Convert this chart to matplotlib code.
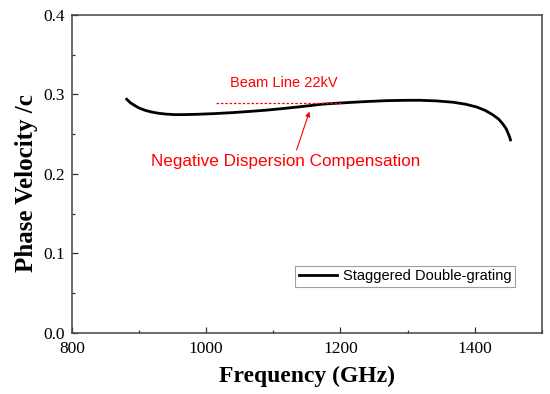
import numpy as np
import matplotlib.pyplot as plt
from matplotlib.ticker import MultipleLocator

# data
freq = [881.5, 887, 893.8, 900, 908.7, 918, 928.5, 940, 953.4, 970, 988.1, 1012, 1037.9,
        1062, 1087.5, 1112, 1137.1, 1155, 1171.9, 1195, 1219, 1244, 1268.7, 1293, 1318.3,
        1343, 1367.9, 1386, 1402.8, 1416, 1427.5, 1436, 1442.4, 1447, 1449.8, 1452, 1453.4]
vphase = [0.294, 0.2895, 0.2859, 0.2829, 0.2801, 0.278, 0.2764, 0.2753, 0.2746, 0.2747,
          0.2751, 0.2759, 0.2771, 0.2785, 0.2801, 0.2821, 0.2843, 0.286, 0.2877, 0.289,
          0.2902, 0.2913, 0.2922, 0.2926, 0.2927, 0.2919, 0.2902, 0.2878, 0.2843, 0.2798,
          0.2742, 0.2688, 0.2625, 0.2568, 0.2512, 0.2468, 0.2428]
beam_f = [1015, 1204]
beam_v = [0.289, 0.289]

plt.rcParams['font.family'] = 'Liberation Serif'

fig = plt.figure(figsize=(5.5, 3.94), dpi=100)
ax = fig.add_axes([0.131, 0.155, 0.854, 0.807])

ax.plot(freq, vphase, color='black', lw=2, label='Staggered Double-grating',
        solid_joinstyle='round')
ax.plot(beam_f, beam_v, color='red', lw=0.9, ls=(0, (2, 1.5)))

ax.text(1115, 0.314, 'Beam Line 22kV', color='red', fontsize=10.5,
        family='Liberation Sans', ha='center', va='center')
ax.text(1118.7, 0.2155, 'Negative Dispersion Compensation', color='red', fontsize=12.3,
        family='Liberation Sans', ha='center', va='center')
ax.annotate('', xy=(1153.7, 0.2784), xytext=(1134.7, 0.2302),
            arrowprops=dict(arrowstyle='-|>', color='red', lw=0.8,
                            mutation_scale=7, shrinkA=0, shrinkB=0))

ax.set_xlim(800, 1500)
ax.set_ylim(0, 0.4)
ax.xaxis.set_major_locator(MultipleLocator(200))
ax.xaxis.set_minor_locator(MultipleLocator(100))
ax.yaxis.set_major_locator(MultipleLocator(0.1))
ax.yaxis.set_minor_locator(MultipleLocator(0.05))
ax.yaxis.set_major_formatter(plt.FormatStrFormatter('%.1f'))
ax.tick_params(which='both', direction='in', labelsize=12.5, color='#333333', width=0.9)
ax.tick_params(which='major', length=4)
ax.tick_params(which='minor', length=2.5)
ax.tick_params(axis='x', which='major', pad=6)
ax.tick_params(axis='y', which='major', pad=5)
for s in ax.spines.values():
    s.set_color('#444444')
    s.set_linewidth(1.1)

ax.set_xlabel('Frequency (GHz)', fontsize=17, fontweight='bold', labelpad=6)
ax.set_ylabel('Phase Velocity /c', fontsize=18, fontweight='bold')
ax.yaxis.set_label_coords(-0.072, 0.47)

leg = ax.legend(loc='lower right', bbox_to_anchor=(0.9426, 0.1447), borderaxespad=0,
                fancybox=False, prop={'family': 'Liberation Sans', 'size': 10.5},
                handlelength=2.6, borderpad=0.25, handletextpad=0.4)
leg.get_frame().set_edgecolor('#888888')
leg.get_frame().set_linewidth(0.8)

fig.savefig('out.png')
